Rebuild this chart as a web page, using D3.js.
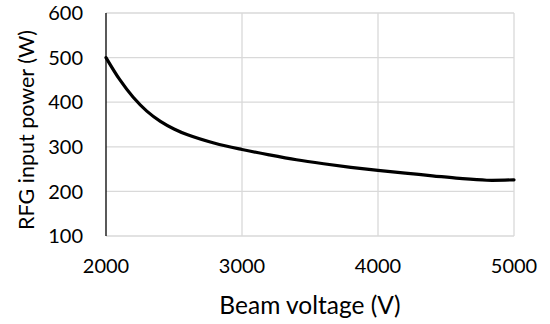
<!DOCTYPE html>
<html>
<head>
<meta charset="utf-8">
<script src="https://cdn.jsdelivr.net/npm/d3@7"></script>
<style>
  body { margin: 0; background: #fff; }
  svg { display: block; font-family: Lato, "Open Sans", sans-serif; fill: #000; }
</style>
</head>
<body>
<div id="chart"></div>
<script>
const voltage = [2000, 2100, 2200, 2300, 2400, 2500, 2600, 2800, 3000, 3200, 3400, 3600, 3800, 4000, 4200, 4400, 4600, 4800, 5000];
const power   = [500, 451, 411, 380, 357, 340, 327, 308, 294, 282, 271, 262, 254, 247, 241, 235, 229, 225, 226];
const xTicks = [2000, 3000, 4000, 5000];
const yTicks = [100, 200, 300, 400, 500, 600];

const width = 550, height = 324;
const margin = { top: 13, right: 36, bottom: 88, left: 106 };

const svg = d3.select('#chart').append('svg')
    .attr('width', width)
    .attr('height', height);

const x = d3.scaleLinear().domain([2000, 5000]).range([margin.left, width - margin.right]);
const y = d3.scaleLinear().domain([100, 600]).range([height - margin.bottom, margin.top]);

// gridlines
svg.append('g')
    .selectAll('line.h')
    .data(yTicks)
    .enter().append('line')
    .attr('x1', margin.left).attr('x2', width - margin.right)
    .attr('y1', d => y(d)).attr('y2', d => y(d))
    .attr('stroke', '#d9d9d9').attr('stroke-width', 1.3);

svg.append('g')
    .selectAll('line.v')
    .data(xTicks.slice(1))
    .enter().append('line')
    .attr('x1', d => x(d)).attr('x2', d => x(d))
    .attr('y1', margin.top).attr('y2', height - margin.bottom)
    .attr('stroke', '#d9d9d9').attr('stroke-width', 1.3);

// left axis line
svg.append('line')
    .attr('x1', margin.left).attr('x2', margin.left)
    .attr('y1', margin.top).attr('y2', height - margin.bottom)
    .attr('stroke', '#000').attr('stroke-width', 1.3);

// tick labels
svg.append('g')
    .selectAll('text')
    .data(yTicks)
    .enter().append('text')
    .attr('x', margin.left - 23)
    .attr('y', d => y(d))
    .attr('dy', '0.36em')
    .attr('text-anchor', 'end')
    .style('font-size', '20px')
    .text(d => d);

svg.append('g')
    .selectAll('text')
    .data(xTicks)
    .enter().append('text')
    .attr('x', d => x(d))
    .attr('y', 273)
    .attr('text-anchor', 'middle')
    .style('font-size', '20px')
    .text(d => d);

// axis titles
svg.append('text')
    .attr('x', (margin.left + width - margin.right) / 2)
    .attr('y', 314)
    .attr('text-anchor', 'middle')
    .style('font-size', '24.5px')
    .text('Beam voltage (V)');

svg.append('text')
    .attr('transform', 'translate(34, 130) rotate(-90)')
    .attr('text-anchor', 'middle')
    .style('font-size', '21.5px')
    .text('RFG input power (W)');

// curve
const line = d3.line()
    .x((d, i) => x(voltage[i]))
    .y(d => y(d))
    .curve(d3.curveCatmullRom);

svg.append('path')
    .datum(power)
    .attr('d', line)
    .attr('fill', 'none')
    .attr('stroke', '#000')
    .attr('stroke-width', 3.2)
    .attr('stroke-linecap', 'round');
</script>
</body>
</html>
